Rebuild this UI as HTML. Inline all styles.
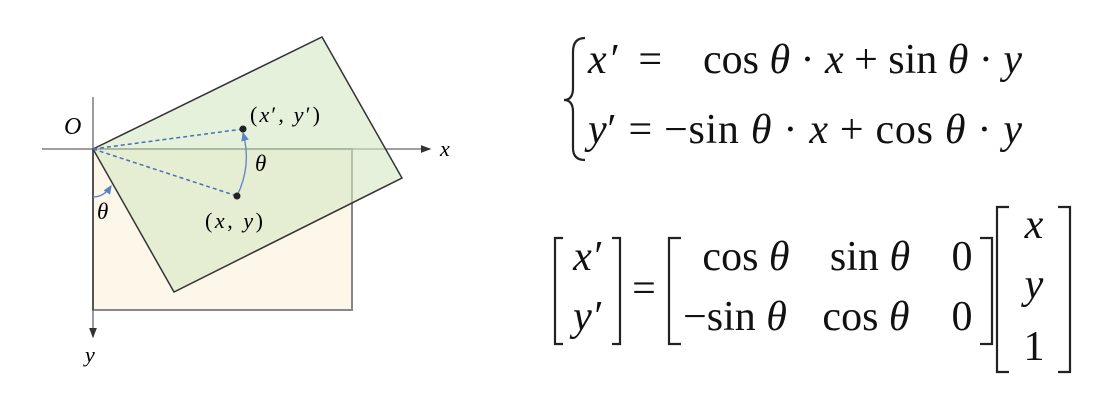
<!DOCTYPE html>
<html><head><meta charset="utf-8"><style>
html,body{margin:0;padding:0;background:#fff;}
svg{display:block;font-family:"Liberation Serif",serif;}
.i{font-style:italic;}
</style></head><body>
<svg width="1100" height="402" viewBox="0 0 1100 402">
<defs>
<marker id="ah" markerWidth="8" markerHeight="8" refX="7" refY="4" orient="auto"><path d="M0,1 L8,4 L0,7 z" fill="#333"/></marker>
<marker id="bh" markerWidth="7" markerHeight="7" refX="6" refY="3.5" orient="auto"><path d="M0,0.5 L7,3.5 L0,6.5 z" fill="#5b84c4"/></marker>
</defs>
<g>
<rect x="93" y="149" width="259" height="161" fill="#fdf7e9" stroke="#888" stroke-width="2"/>
<line x1="93" y1="149" x2="93" y2="310" stroke="#333" stroke-width="2"/>
<line x1="42" y1="149" x2="430" y2="149" stroke="#666" stroke-width="1.3" marker-end="url(#ah)"/>
<line x1="93" y1="97" x2="93" y2="337" stroke="#666" stroke-width="1.3" marker-end="url(#ah)"/>
<polygon points="93,149 322,37 402,178 174,292" fill="rgba(214,232,196,0.6)" stroke="#333" stroke-width="1.5"/>
<line x1="93" y1="149" x2="243" y2="129" stroke="#4a6fb5" stroke-width="1.5" stroke-dasharray="4,3"/>
<line x1="93" y1="149" x2="237" y2="196" stroke="#4a6fb5" stroke-width="1.5" stroke-dasharray="4,3"/>
<path d="M237,196 Q252,165 243,133" fill="none" stroke="#5b84c4" stroke-width="1.3" marker-end="url(#bh)"/>
<path d="M93,197 Q104,197 111,186" fill="none" stroke="#5b84c4" stroke-width="1.3" marker-end="url(#bh)"/>
<circle cx="243" cy="129" r="3.5" fill="#222"/>
<circle cx="237" cy="196" r="3.5" fill="#222"/>
<text class="i" x="64" y="134" font-size="24">O</text>
<text class="i" x="440" y="156" font-size="22">x</text>
<text class="i" x="85" y="362" font-size="22">y</text>
<text x="250" y="122" font-size="22" textLength="70">(<tspan class="i">x</tspan>′, <tspan class="i">y</tspan>′)</text>
<text x="205" y="228" font-size="22" textLength="58">(<tspan class="i">x</tspan>, <tspan class="i">y</tspan>)</text>
<text class="i" x="255" y="171" font-size="23">θ</text>
<text class="i" x="97" y="219" font-size="23">θ</text>
</g>
<g font-size="42" fill="#111">
<path d="M585,38 Q573,38 573,52 V88 Q573,100 564,100 Q573,100 573,112 V148 Q573,160 585,160" fill="none" stroke="#222" stroke-width="2.2"/>
<text x="588" y="73" textLength="74"><tspan class="i">x</tspan>′ =</text>
<text x="703" y="73" textLength="319">cos <tspan class="i">θ</tspan> · <tspan class="i">x</tspan> + sin <tspan class="i">θ</tspan> · <tspan class="i">y</tspan></text>
<text x="588" y="143" textLength="434"><tspan class="i">y</tspan>′ = −sin <tspan class="i">θ</tspan> · <tspan class="i">x</tspan> + cos <tspan class="i">θ</tspan> · <tspan class="i">y</tspan></text>
<g fill="none" stroke="#222" stroke-width="2.2">
<path d="M563,238 H555 V344 H563"/><path d="M612,238 H620 V344 H612"/>
<path d="M681,238 H669 V344 H681"/><path d="M980,238 H992 V344 H980"/>
<path d="M1009,207 H997 V372 H1009"/><path d="M1058,207 H1070 V372 H1058"/>
</g>
<text class="i" x="587" y="270" text-anchor="middle">x′</text>
<text class="i" x="587" y="330" text-anchor="middle">y′</text>
<text x="644" y="302" text-anchor="middle">=</text>
<text x="746" y="270" text-anchor="middle">cos <tspan class="i">θ</tspan></text>
<text x="870" y="270" text-anchor="middle">sin <tspan class="i">θ</tspan></text>
<text x="962" y="270" text-anchor="middle">0</text>
<text x="735" y="330" text-anchor="middle">−sin <tspan class="i">θ</tspan></text>
<text x="866" y="330" text-anchor="middle">cos <tspan class="i">θ</tspan></text>
<text x="962" y="330" text-anchor="middle">0</text>
<text class="i" x="1034" y="238" text-anchor="middle">x</text>
<text class="i" x="1034" y="298" text-anchor="middle">y</text>
<text x="1034" y="360" text-anchor="middle">1</text>
</g>
</svg>
</body></html>
